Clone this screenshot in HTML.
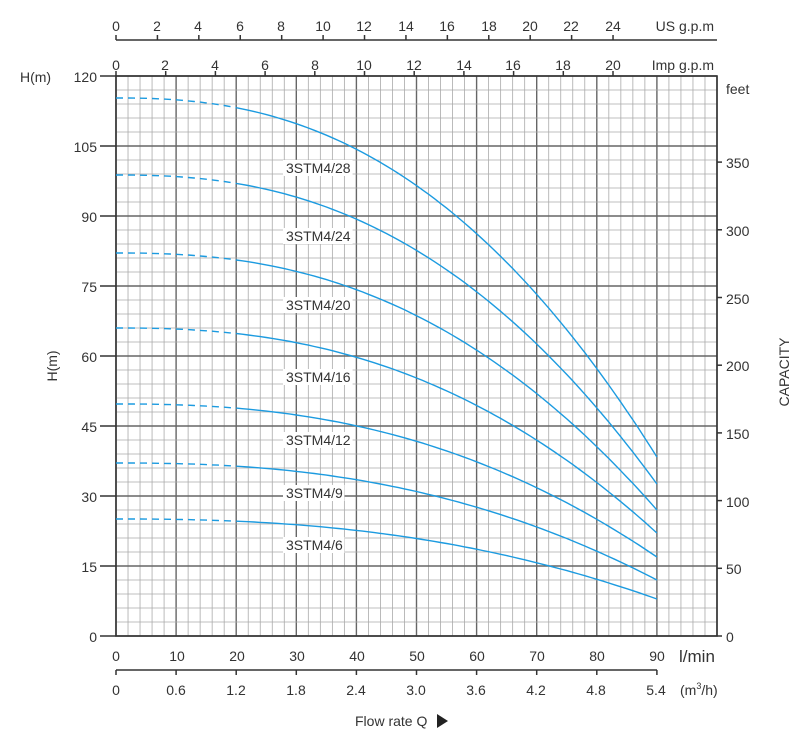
<!DOCTYPE html>
<html><head><meta charset="utf-8"><style>
body{margin:0;background:#fff}
svg{display:block;font-family:"Liberation Sans",Arial,sans-serif}
</style></head><body>
<svg id="s" width="801" height="739" viewBox="0 0 801 739" xmlns="http://www.w3.org/2000/svg">
<g id="grid"></g>
<g id="curves" fill="none" stroke="#1c9be0" stroke-width="1.4"></g>
<g font-size="14" fill="#333">
<line x1="116" y1="40" x2="717" y2="40" stroke="#333" stroke-width="1.5"/>
<g id="usticks"></g>
<g text-anchor="middle">
<text x="116" y="31">0</text><text x="157" y="31">2</text><text x="198" y="31">4</text><text x="240" y="31">6</text><text x="281" y="31">8</text><text x="323" y="31">10</text><text x="364" y="31">12</text><text x="406" y="31">14</text><text x="447" y="31">16</text><text x="489" y="31">18</text><text x="530" y="31">20</text><text x="571" y="31">22</text><text x="613" y="31">24</text>
<text x="116" y="70">0</text><text x="165" y="70">2</text><text x="215" y="70">4</text><text x="265" y="70">6</text><text x="315" y="70">8</text><text x="364" y="70">10</text><text x="414" y="70">12</text><text x="464" y="70">14</text><text x="513" y="70">16</text><text x="563" y="70">18</text><text x="613" y="70">20</text>
</g>
<text x="714" y="31" text-anchor="end">US g.p.m</text>
<text x="714" y="70" text-anchor="end">Imp g.p.m</text>
<text x="726" y="94">feet</text>
<text x="20" y="82">H(m)</text>
<g text-anchor="end">
<text x="97" y="82">120</text><text x="97" y="152">105</text><text x="97" y="222">90</text><text x="97" y="292">75</text><text x="97" y="362">60</text><text x="97" y="432">45</text><text x="97" y="502">30</text><text x="97" y="572">15</text><text x="97" y="642">0</text>
</g>
<g>
<text x="726" y="642">0</text><text x="726" y="574">50</text><text x="726" y="507">100</text><text x="726" y="439">150</text><text x="726" y="371">200</text><text x="726" y="304">250</text><text x="726" y="236">300</text><text x="726" y="168">350</text>
</g>
<text transform="translate(57,366) rotate(-90)" text-anchor="middle">H(m)</text>
<text transform="translate(789,372) rotate(-90)" text-anchor="middle">CAPACITY</text>
<g text-anchor="middle">
<text x="116" y="661">0</text><text x="177" y="661">10</text><text x="237" y="661">20</text><text x="297" y="661">30</text><text x="357" y="661">40</text><text x="417" y="661">50</text><text x="477" y="661">60</text><text x="537" y="661">70</text><text x="597" y="661">80</text><text x="657" y="661">90</text>
<text x="116" y="695">0</text><text x="176" y="695">0.6</text><text x="236" y="695">1.2</text><text x="296" y="695">1.8</text><text x="356" y="695">2.4</text><text x="416" y="695">3.0</text><text x="476" y="695">3.6</text><text x="536" y="695">4.2</text><text x="596" y="695">4.8</text><text x="656" y="695">5.4</text>
</g>
<text x="679" y="662" font-size="17">l/min</text>
<text x="680" y="695">(m<tspan font-size="9" dy="-6">3</tspan><tspan dy="6">/h)</tspan></text>
<line x1="116" y1="670" x2="657" y2="670" stroke="#333" stroke-width="1.5"/>
<g id="bticks"></g>
<text x="355" y="726">Flow rate Q</text>
<polygon points="437,714 437,728 448,721" fill="#222"/>
</g>
<g id="labels" font-size="14" fill="#333"></g>
</svg>
<script>
var NS="http://www.w3.org/2000/svg";
function el(p,t,a){var e=document.createElementNS(NS,t);for(var k in a)e.setAttribute(k,a[k]);document.getElementById(p).appendChild(e);return e;}
var X0=116,Y0=636;
for(var i=0;i<=50;i++){var x=X0+i*12.02;var maj=i%5==0;el('grid','line',{x1:x,y1:76,x2:x,y2:636,stroke:maj?'#666':'#aaa','stroke-width':maj?1.4:0.8});}
for(var j=0;j<=40;j++){var y=76+j*14;var maj=j%5==0;el('grid','line',{x1:116,y1:y,x2:717,y2:y,stroke:maj?'#666':'#aaa','stroke-width':maj?1.4:0.8});}
el('grid','rect',{x:116,y:76,width:601,height:560,fill:'none',stroke:'#333','stroke-width':1.6});
for(var j=0;j<=8;j++){var y=76+j*70;el('grid','line',{x1:100,y1:y,x2:116,y2:y,stroke:'#333','stroke-width':1.5});}
[0,50,100,150,200,250,300,350].forEach(function(f){var y=636-f*1.354;el('grid','line',{x1:717,y1:y,x2:722,y2:y,stroke:'#333','stroke-width':1.5});});
for(var i=0;i<=12;i++){var x=116+i*41.42;el('usticks','line',{x1:x,y1:40,x2:x,y2:35,stroke:'#333','stroke-width':1.5});}
for(var i=0;i<=10;i++){var x=116+i*49.7;el('grid','line',{x1:x,y1:76,x2:x,y2:71,stroke:'#333','stroke-width':1.5});}
for(var i=0;i<=9;i++){var x=116+i*60.1;el('bticks','line',{x1:x,y1:670,x2:x,y2:675,stroke:'#333','stroke-width':1.5});}
var starts=[98,175,253,328,404,463,519],ends=[457,484,510,533,557,580,599];
function f(q){return Math.pow(q/90,2.4);}
for(var c=0;c<7;c++){
 var y0=starts[c],y9=ends[c];
 function P(q){return (X0+q*6.01).toFixed(1)+','+(y0+(y9-y0)*f(q)).toFixed(1);}
 var d='M'+P(0);for(var q=1;q<=20;q++)d+=' L'+P(q);
 el('curves','path',{d:d,'stroke-dasharray':'7,5'});
 d='M'+P(20);for(var q=21;q<=90;q++)d+=' L'+P(q);
 el('curves','path',{d:d});
}
var labs=[['3STM4/28',168],['3STM4/24',236],['3STM4/20',305],['3STM4/16',377],['3STM4/12',440],['3STM4/9',493],['3STM4/6',545]];
labs.forEach(function(l){el('labels','rect',{x:283,y:l[1]-8,width:l[0].length*8.2+4,height:16,fill:'#fff'});var t=el('labels','text',{x:286,y:l[1]+5});t.textContent=l[0];});
</script>
</body></html>
